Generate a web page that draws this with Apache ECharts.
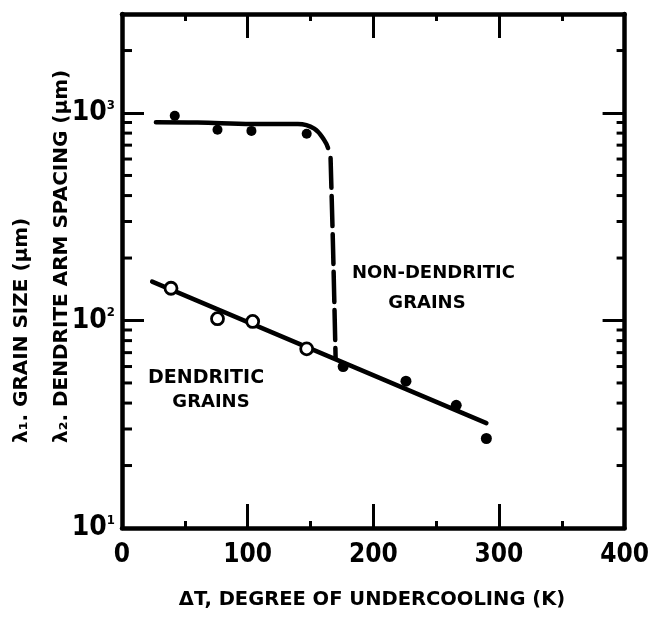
<!DOCTYPE html>
<html>
<head>
<meta charset="utf-8">
<script src="https://cdn.jsdelivr.net/npm/echarts@6/dist/echarts.min.js"></script>
<style>
  html, body { margin: 0; padding: 0; background: #fff; }
  #chart { width: 652px; height: 623px; }
</style>
</head>
<body>
<div id="chart"></div>
<script>
// Undercooling axis ticks (K) and the log-axis decades
const xTicks = [0, 100, 200, 300, 400];
const yDecades = [10, 100, 1000];
const yMax = 3000;

// Grain size, dendritic range (filled dots near 10^3)
const grainDendriticX = [42, 76, 103, 147];
const grainDendriticY = [970, 830, 820, 795];

// Dendrite arm spacing (open circles)
const armSpacingX = [39, 76, 104, 147];
const armSpacingY = [143, 102, 99, 73];

// Grain size, non-dendritic range (filled dots on the lower trend)
const grainNonDendriticX = [176, 226, 266, 290];
const grainNonDendriticY = [60, 51, 39, 27];

// Guide curves
const plateauX = [27, 60, 104, 140, 153, 161, 164];
const plateauY = [903, 900, 885, 885, 841, 739, 678];
const transitionX = [166, 168, 170];
const transitionY = [607, 220, 66];
const trendX = [24, 290];
const trendY = [154, 32];

const zip = (xs, ys) => xs.map((x, i) => [x, ys[i]]);

// minor log ticks 2..9 within each decade
const minorTickValues = [];
yDecades.forEach(d => {
  for (let k = 2; k <= 9; k++) {
    const v = k * d;
    if (v < yMax) minorTickValues.push(v);
  }
});

const INK = '#000';
const numFont = "'Liberation Sans Narrow', 'DejaVu Sans Condensed', sans-serif";
const txtFont = "'DejaVu Sans', sans-serif";

const xAxisBase = {
  type: 'value',
  min: xTicks[0],
  max: xTicks[xTicks.length - 1],
  interval: 100,
  axisLine: { show: true, onZero: false, lineStyle: { color: INK, width: 4.5, cap: 'round' } },
  axisTick: { show: true, inside: true, length: 24, lineStyle: { color: INK, width: 3 } },
  minorTick: { show: true, splitNumber: 2, length: 7, lineStyle: { color: INK, width: 3 } },
  splitLine: { show: false },
  minorSplitLine: { show: false }
};

const yAxisBase = {
  type: 'log',
  logBase: 10,
  min: yDecades[0],
  max: yMax,
  axisLine: { show: true, onZero: false, lineStyle: { color: INK, width: 4.5, cap: 'round' } },
  axisTick: { show: true, inside: true, length: 22, lineStyle: { color: INK, width: 3 } },
  splitLine: { show: false }
};

const chart = echarts.init(document.getElementById('chart'), null, { renderer: 'canvas' });

chart.setOption({
  backgroundColor: '#fff',
  animation: false,
  grid: { left: 122, right: 12, top: 14, bottom: 95, containLabel: false },
  xAxis: [
    Object.assign({}, xAxisBase, {
      position: 'bottom',
      axisLabel: {
        show: true, margin: 14, color: INK,
        fontFamily: numFont, fontWeight: 'bold', fontSize: 26
      }
    }),
    Object.assign({}, xAxisBase, { position: 'top', axisLabel: { show: false } })
  ],
  yAxis: [
    Object.assign({}, yAxisBase, {
      position: 'left',
      axisLabel: {
        show: true, margin: 7, color: INK,
        formatter: v => {
          const e = Math.log10(v);
          if (Math.abs(e - Math.round(e)) > 1e-6) return '';
          return '{b|10}{s|' + Math.round(e) + '}';
        },
        rich: {
          b: { fontFamily: numFont, fontWeight: 'bold', fontSize: 28, color: INK },
          s: { fontFamily: numFont, fontWeight: 'bold', fontSize: 13, color: INK, verticalAlign: 'top', padding: [0, 0, 14, 0] }
        }
      }
    }),
    Object.assign({}, yAxisBase, { position: 'right', axisLabel: { show: false } })
  ],
  series: [
    {
      type: 'custom',
      name: 'minor log ticks',
      xAxisIndex: 0, yAxisIndex: 0,
      silent: true,
      clip: false,
      data: minorTickValues.map(v => [xTicks[0], v]),
      renderItem: (params, api) => {
        const v = api.value(1);
        const pl = api.coord([xTicks[0], v]);
        const pr = api.coord([xTicks[xTicks.length - 1], v]);
        return {
          type: 'group',
          children: [
            { type: 'line', shape: { x1: pl[0], y1: pl[1], x2: pl[0] + 10, y2: pl[1] }, style: { stroke: INK, lineWidth: 3 } },
            { type: 'line', shape: { x1: pr[0], y1: pr[1], x2: pr[0] - 8, y2: pr[1] }, style: { stroke: INK, lineWidth: 3 } }
          ]
        };
      }
    },
    {
      type: 'line', name: 'plateau',
      data: zip(plateauX, plateauY),
      smooth: 0.4, symbol: 'none', silent: true,
      lineStyle: { color: INK, width: 4.5, cap: 'round' }
    },
    {
      type: 'line', name: 'transition',
      data: zip(transitionX, transitionY),
      smooth: 0.3, symbol: 'none', silent: true,
      lineStyle: { color: INK, width: 4.5, type: [30, 8], cap: 'round' }
    },
    {
      type: 'line', name: 'trend',
      data: zip(trendX, trendY),
      symbol: 'none', silent: true,
      lineStyle: { color: INK, width: 4.5, cap: 'round' }
    },
    {
      type: 'scatter', name: 'grain size (dendritic)',
      data: zip(grainDendriticX, grainDendriticY),
      symbol: 'circle', symbolSize: 10, silent: true,
      itemStyle: { color: INK, opacity: 1 }, z: 5
    },
    {
      type: 'scatter', name: 'arm spacing',
      data: zip(armSpacingX, armSpacingY),
      symbol: 'circle', symbolSize: 12, silent: true,
      itemStyle: { color: '#fff', borderColor: INK, borderWidth: 2.8, opacity: 1 }, z: 5
    },
    {
      type: 'scatter', name: 'grain size (non-dendritic)',
      data: zip(grainNonDendriticX, grainNonDendriticY),
      symbol: 'circle', symbolSize: 11, silent: true,
      itemStyle: { color: INK, opacity: 1 }, z: 5
    }
  ],
  graphic: [
    { type: 'text', x: 352, y: 273, style: { text: 'NON-DENDRITIC', fill: INK, font: 'bold 18px ' + txtFont, align: 'left', verticalAlign: 'middle' } },
    { type: 'text', x: 427, y: 303, style: { text: 'GRAINS', fill: INK, font: 'bold 18px ' + txtFont, align: 'center', verticalAlign: 'middle' } },
    { type: 'text', x: 148, y: 378, style: { text: 'DENDRITIC', fill: INK, font: 'bold 19px ' + txtFont, align: 'left', verticalAlign: 'middle' } },
    { type: 'text', x: 211, y: 402, style: { text: 'GRAINS', fill: INK, font: 'bold 18px ' + txtFont, align: 'center', verticalAlign: 'middle' } },
    { type: 'text', x: 372, y: 600, style: { text: 'ΔT, DEGREE OF UNDERCOOLING (K)', fill: INK, font: 'bold 19.5px ' + txtFont, align: 'center', verticalAlign: 'middle' } },
    { type: 'text', x: 22, y: 443, rotation: Math.PI / 2, style: { text: 'λ₁. GRAIN SIZE (μm)', fill: INK, font: 'bold 20px ' + txtFont, align: 'left', verticalAlign: 'middle' } },
    { type: 'text', x: 62, y: 443, rotation: Math.PI / 2, style: { text: 'λ₂. DENDRITE ARM SPACING (μm)', fill: INK, font: 'bold 20px ' + txtFont, align: 'left', verticalAlign: 'middle' } }
  ]
});
</script>
</body>
</html>
